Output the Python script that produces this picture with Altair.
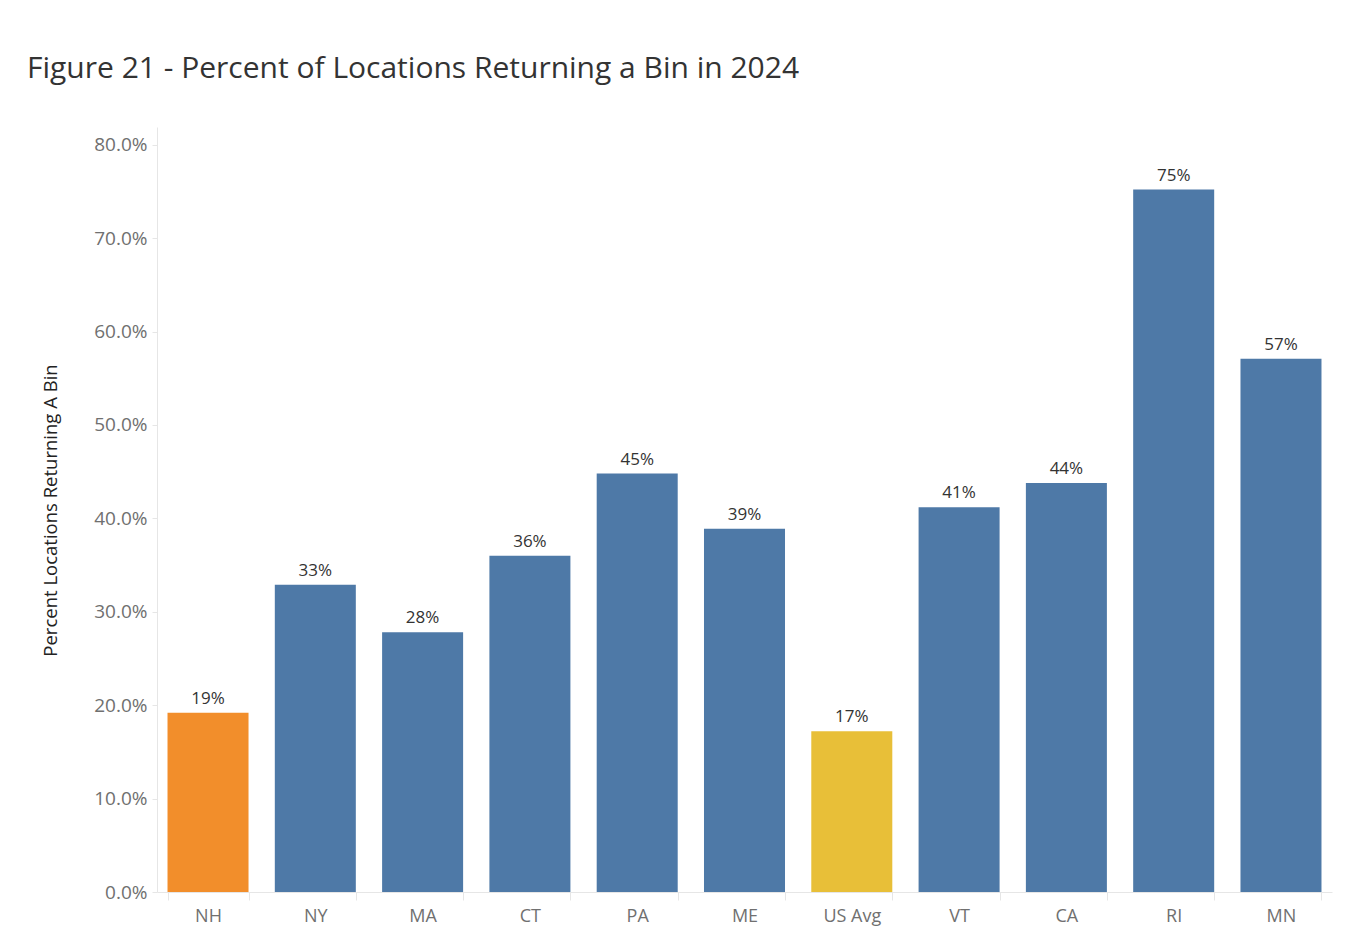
import altair as alt
import pandas as pd

states = ["NH", "NY", "MA", "CT", "PA", "ME", "US Avg", "VT", "CA", "RI", "MN"]
pct = [0.192, 0.329, 0.278, 0.360, 0.448, 0.389, 0.172, 0.412, 0.438, 0.752, 0.571]
group = ["NH", "Other", "Other", "Other", "Other", "Other", "US", "Other", "Other", "Other", "Other"]

df = pd.DataFrame({"State": states, "Pct": pct, "Group": group})

FONT = "Open Sans"

x = alt.X("State:N", sort=None, title=None,
          scale=alt.Scale(paddingInner=0.245, paddingOuter=0.098),
          axis=alt.Axis(labelAngle=0, labelFontSize=18, labelColor="#707070", labelFont=FONT,
                        labelPadding=7, tickBand="extent", tickSize=8, tickColor="#e6e6e6",
                        domainColor="#e6e6e6"))
y = alt.Y("Pct:Q", title="Percent Locations Returning A Bin",
          scale=alt.Scale(domain=[0, 0.819], nice=False),
          axis=alt.Axis(format=".1%", values=[0, 0.1, 0.2, 0.3, 0.4, 0.5, 0.6, 0.7, 0.8],
                        grid=False, labelFontSize=19, labelColor="#707070", labelFont=FONT,
                        tickSize=5, tickColor="#e6e6e6", labelPadding=5, domainColor="#e6e6e6",
                        titleFont=FONT, titleFontSize=18.5, titleFontWeight="normal",
                        titleColor="#222222", titleX=-107, titleY=383, titleAngle=270,
                        titleBaseline="middle", titleAlign="center"))

bars = alt.Chart(df).mark_bar().encode(
    x=x, y=y,
    color=alt.Color("Group:N", legend=None,
                    scale=alt.Scale(domain=["NH", "Other", "US"],
                                    range=["#f28e2b", "#4e79a7", "#e8bf38"])),
)
labels = alt.Chart(df).mark_text(baseline="bottom", dy=-5, fontSize=17, font=FONT,
                                 color="#333333").encode(
    x=alt.X("State:N", sort=None), y="Pct:Q", text=alt.Text("Pct:Q", format=".0%"))

chart = (bars + labels).properties(
    width=1175, height=765,
    autosize=alt.AutoSizeParams(type="none"),
    padding={"left": 149, "top": 119, "right": 9, "bottom": 40},
    background="white",
    title=alt.TitleParams("Figure 21 - Percent of Locations Returning a Bin in 2024",
                          anchor="start", frame="group", font=FONT, fontSize=30,
                          fontWeight="normal", color="#333333", baseline="bottom",
                          offset=13, dx=-130),
).configure_view(stroke=None)

chart.save("out.html", embed_options={"renderer": "svg", "actions": False})
